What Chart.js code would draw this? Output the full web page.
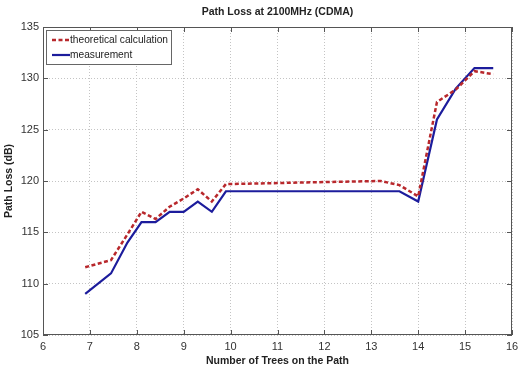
<!DOCTYPE html>
<html>
<head>
<meta charset="utf-8">
<script src="https://cdn.jsdelivr.net/npm/chart.js@4"></script>
<style>
body{margin:0;background:#fff;}
#wrap{width:518px;height:367px;position:relative;}
</style>
</head>
<body>
<div id="wrap"><canvas id="myChart" width="518" height="367"></canvas></div>
<script>
var trees = [6.9, 7.45, 7.8, 8.1, 8.4, 8.7, 9.0, 9.3, 9.6, 9.9, 11.0, 12.0, 13.2, 13.6, 14.0, 14.4, 14.8, 15.2, 15.6];
var theoretical = [111.6, 112.3, 114.8, 117.0, 116.3, 117.5, 118.3, 119.2, 118.0, 119.7, 119.8, 119.9, 120.0, 119.6, 118.5, 127.7, 128.9, 130.7, 130.4];
var measured = [109.0, 111.0, 114.0, 116.0, 116.0, 117.0, 117.0, 118.0, 117.0, 119.0, 119.0, 119.0, 119.0, 119.0, 118.0, 126.0, 129.0, 131.0, 131.0];
var xTicks = [6, 7, 8, 9, 10, 11, 12, 13, 14, 15, 16];
var yTicks = [105, 110, 115, 120, 125, 130, 135];

var seriesNames = ['theoretical calculation', 'measurement'];
var red = '#b8282c', blue = '#1c1c9c';

function pts(ys){
    var out = [];
    for (var i = 0; i < trees.length; i++) out.push({x: trees[i], y: ys[i]});
    return out;
}

var ctx = document.getElementById('myChart').getContext('2d');

var matlabLook = {
    id: 'matlabLook',
    afterDraw: function(chart){
        var c = chart.ctx, a = chart.chartArea;
        var xs = chart.scales.x, ys = chart.scales.y;
        c.save();
        // frame
        c.strokeStyle = '#555';
        c.lineWidth = 1;
        c.strokeRect(a.left + 0.5, a.top + 0.5, a.right - a.left - 1, a.bottom - a.top - 1);
        // inward ticks
        c.beginPath();
        xTicks.forEach(function(t){
            var px = Math.round(xs.getPixelForValue(t)) + 0.5;
            c.moveTo(px, a.bottom); c.lineTo(px, a.bottom - 5);
            c.moveTo(px, a.top); c.lineTo(px, a.top + 5);
        });
        yTicks.forEach(function(t){
            var py = Math.round(ys.getPixelForValue(t)) + 0.5;
            c.moveTo(a.left, py); c.lineTo(a.left + 5, py);
            c.moveTo(a.right, py); c.lineTo(a.right - 5, py);
        });
        c.stroke();
        // title
        c.fillStyle = '#222';
        c.font = 'bold 10.5px "Liberation Sans", Arial, sans-serif';
        c.textAlign = 'center';
        c.textBaseline = 'middle';
        c.fillText('Path Loss at 2100MHz (CDMA)', (a.left + a.right) / 2, 12);
        // legend
        var lx = a.left + 3, ly = a.top + 3, lw = 125, lh = 34;
        c.fillStyle = '#fff';
        c.fillRect(lx, ly, lw, lh);
        c.strokeStyle = '#666';
        c.strokeRect(lx + 0.5, ly + 0.5, lw, lh);
        c.lineWidth = 2.5;
        c.strokeStyle = red;
        c.setLineDash([4, 2.5]);
        c.beginPath(); c.moveTo(lx + 6, ly + 10); c.lineTo(lx + 24, ly + 10); c.stroke();
        c.setLineDash([]);
        c.lineWidth = 2.2;
        c.strokeStyle = blue;
        c.beginPath(); c.moveTo(lx + 6, ly + 25); c.lineTo(lx + 24, ly + 25); c.stroke();
        c.fillStyle = '#222';
        c.font = '10.2px "Liberation Sans", Arial, sans-serif';
        c.textAlign = 'left';
        c.fillText(seriesNames[0], lx + 24, ly + 10);
        c.fillText(seriesNames[1], lx + 24, ly + 25);
        c.restore();
    }
};

var chart = new Chart(ctx, {
    type: 'line',
    data: {
        datasets: [{
            label: seriesNames[0],
            data: pts(theoretical),
            borderColor: red,
            borderWidth: 2.5,
            borderDash: [4, 2.5],
            pointRadius: 0,
            tension: 0,
            fill: false
        }, {
            label: seriesNames[1],
            data: pts(measured),
            borderColor: blue,
            borderWidth: 2.2,
            pointRadius: 0,
            tension: 0,
            fill: false
        }]
    },
    options: {
        responsive: false,
        animation: false,
        layout: {padding: {top: 27, right: 6, left: 3, bottom: 0}},
        plugins: {
            legend: {display: false},
            title: {display: false},
            tooltip: {enabled: false}
        },
        scales: {
            x: {
                type: 'linear',
                min: 6, max: 16,
                afterBuildTicks: function(s){ s.ticks = xTicks.map(function(v){ return {value: v}; }); },
                afterFit: function(s){ s.height = 32; s.paddingRight = 0; s.paddingLeft = 0; },
                grid: {color: '#c4c4c4', drawTicks: false, lineWidth: 1},
                border: {display: false, dash: [1, 2]},
                ticks: {color: '#333', font: {size: 11, family: '"Liberation Sans", Arial'}, padding: 5, maxRotation: 0},
                title: {display: true, text: 'Number of Trees on the Path', color: '#222',
                        font: {size: 10.5, weight: 'bold', family: '"Liberation Sans", Arial'}, padding: 0}
            },
            y: {
                min: 105, max: 135,
                afterBuildTicks: function(s){ s.ticks = yTicks.map(function(v){ return {value: v}; }); },
                afterFit: function(s){ s.width = 40; s.paddingTop = 0; s.paddingBottom = 0; },
                grid: {color: '#c4c4c4', drawTicks: false, lineWidth: 1},
                border: {display: false, dash: [1, 2]},
                ticks: {color: '#333', font: {size: 11, family: '"Liberation Sans", Arial'}, padding: 4},
                title: {display: true, text: 'Path Loss (dB)', color: '#222',
                        font: {size: 10.5, weight: 'bold', family: '"Liberation Sans", Arial'}, padding: 0}
            }
        }
    },
    plugins: [matlabLook]
});
</script>
</body>
</html>
